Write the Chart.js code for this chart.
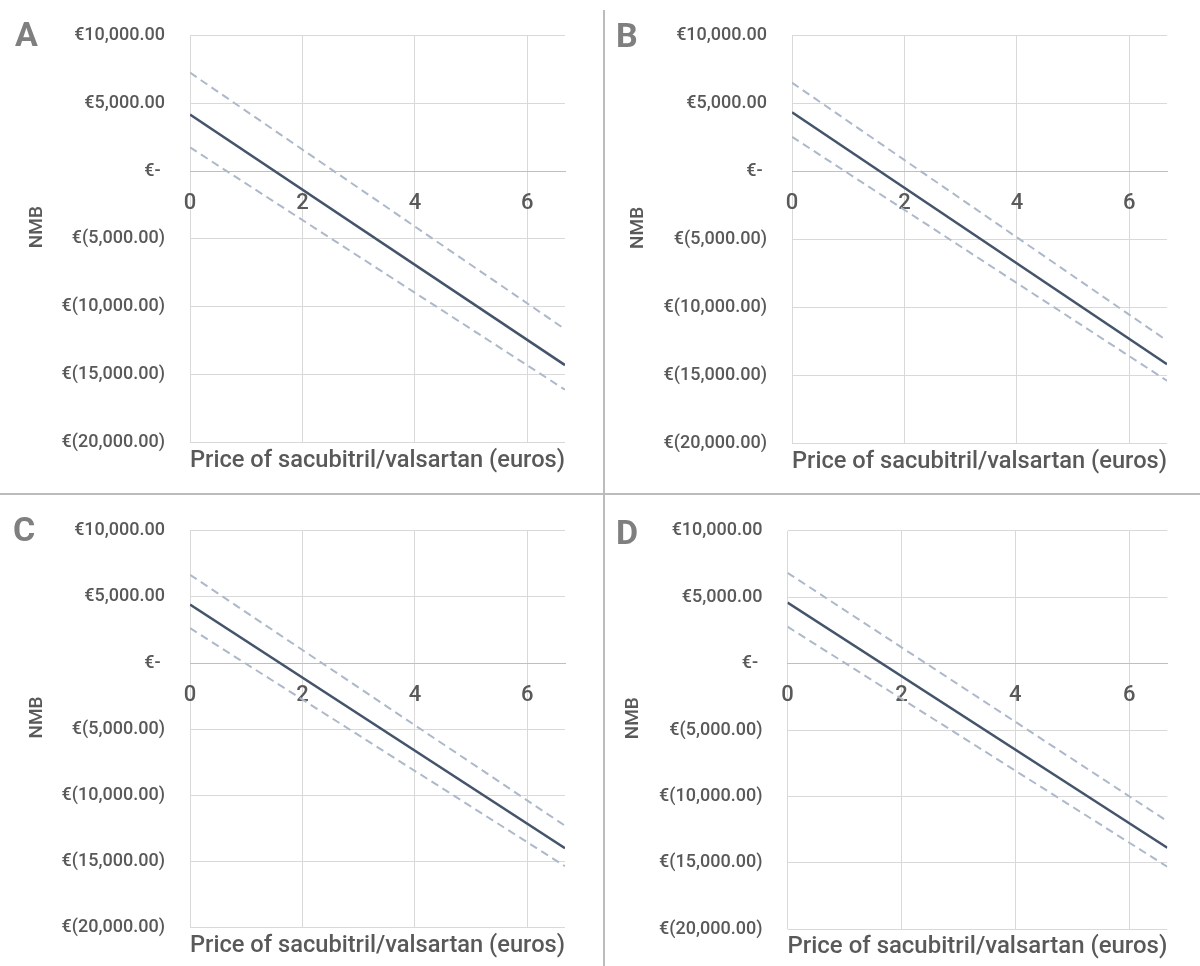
<!DOCTYPE html>
<html>
<head>
<meta charset="utf-8">
<script src="https://cdn.jsdelivr.net/npm/chart.js@4.4.1/dist/chart.umd.min.js"></script>
<style>
  html, body { margin: 0; padding: 0; background: #fff; }
  #page { position: relative; width: 1200px; height: 966px; overflow: hidden; }
  #page canvas { position: absolute; display: block; }
  .letter { position: absolute; font: bold 34px Roboto, sans-serif; line-height: 34px; color: #7f7f7f; }
  .vsep { position: absolute; left: 603px; top: 10px; width: 2px; height: 956px; background: #bcbcbc; }
  .hsep { position: absolute; left: 0; top: 493px; width: 1200px; height: 2px; background: #bcbcbc; }
</style>
</head>
<body>
<div id="page">
  <canvas id="cA"></canvas>
  <canvas id="cB"></canvas>
  <canvas id="cC"></canvas>
  <canvas id="cD"></canvas>
  <div class="vsep"></div>
  <div class="hsep"></div>
  <div class="letter" style="left:15px;top:17px">A</div>
  <div class="letter" style="left:616px;top:18px">B</div>
  <div class="letter" style="left:13px;top:512px">C</div>
  <div class="letter" style="left:616px;top:515px">D</div>
</div>
<script>
// price of sacubitril/valsartan (euros) at both ends of each line
const priceEuros = [0, 6.67];
const xTicks = [0, 2, 4, 6];
const yTicks = [10000, 5000, 0, -5000, -10000, -15000, -20000];

// NMB (euros)
const nmbA = [4190, -14320];
const nmbAHigh = [7280, -11670];
const nmbALow = [1760, -16140];

const nmbB = [4380, -14170];
const nmbBHigh = [6550, -12430];
const nmbBLow = [2570, -15380];

const nmbC = [4430, -14000];
const nmbCHigh = [6680, -12290];
const nmbCLow = [2640, -15350];

const nmbD = [4590, -13860];
const nmbDHigh = [6840, -11860];
const nmbDLow = [2780, -15290];

const fontFam = 'Roboto, "Liberation Sans", sans-serif';
const txt = '#595959';

// canvas box [x, y, w, h] and plot area [left, top, right, bottom] in canvas pixels
const panels = [
  { id: 'cA', box: [0, 0, 603, 493],   area: [190, 28, 565, 442],     yTitleX: 37, xTitleY: 461, d: [nmbA, nmbAHigh, nmbALow] },
  { id: 'cB', box: [605, 0, 595, 493], area: [187, 29, 562, 443.5],   yTitleX: 33, xTitleY: 462, d: [nmbB, nmbBHigh, nmbBLow] },
  { id: 'cC', box: [0, 495, 603, 471], area: [190, 24, 565, 432.7],   yTitleX: 37, xTitleY: 451, d: [nmbC, nmbCHigh, nmbCLow] },
  { id: 'cD', box: [605, 495, 595, 471], area: [182.5, 21, 562.3, 434.3], yTitleX: 28, xTitleY: 452, d: [nmbD, nmbDHigh, nmbDLow] }
];

function euro(v) {
  if (v === 0) return '€- ';
  const s = Math.abs(v).toLocaleString('en-US', { minimumFractionDigits: 2, maximumFractionDigits: 2 });
  return v < 0 ? '€(' + s + ')' : '€' + s;
}

function pts(ys) {
  return priceEuros.map((x, i) => ({ x: x, y: ys[i] }));
}

panels.forEach(function (p) {
  const cv = document.getElementById(p.id);
  const [bx, by, W, H] = p.box;
  cv.style.left = bx + 'px';
  cv.style.top = by + 'px';
  cv.width = W;
  cv.height = H;

  const yTitleSize = 19, xTitleSize = 24;
  const padLeft = p.yTitleX - yTitleSize * 1.2 / 2;
  const padBottom = H - p.xTitleY - xTitleSize * 1.2 / 2;
  const yWidth = p.area[0] - padLeft;
  const x2Height = H - padBottom - p.area[3];

  new Chart(cv, {
    type: 'line',
    data: {
      datasets: [
        { data: pts(p.d[0]), borderColor: '#44546a', borderWidth: 2.5, xAxisID: 'x', yAxisID: 'y', order: 0 },
        { data: pts(p.d[1]), borderColor: '#adb9ca', borderWidth: 2, borderDash: [8, 5], xAxisID: 'x', yAxisID: 'y', order: 1 },
        { data: pts(p.d[2]), borderColor: '#adb9ca', borderWidth: 2, borderDash: [8, 5], xAxisID: 'x', yAxisID: 'y', order: 1 }
      ]
    },
    options: {
      responsive: false,
      animation: false,
      devicePixelRatio: 1,
      elements: { point: { radius: 0 }, line: { tension: 0 } },
      layout: { padding: { left: padLeft, top: p.area[1], right: W - p.area[2], bottom: padBottom } },
      plugins: { legend: { display: false }, tooltip: { enabled: false } },
      scales: {
        x: {
          type: 'linear',
          position: { y: 0 },
          min: 0,
          max: 6.67,
          afterBuildTicks: s => { s.ticks = xTicks.map(v => ({ value: v })); },
          grid: { color: '#d9d9d9', lineWidth: 1, drawTicks: false },
          border: { display: true, color: '#bfbfbf', width: 1 },
          ticks: { color: txt, font: { family: fontFam, size: 22, weight: '500' }, padding: 19, maxRotation: 0, callback: v => String(v) }
        },
        x2: {
          type: 'linear',
          position: 'bottom',
          grid: { display: false },
          border: { display: false },
          ticks: { display: false },
          title: { display: true, text: 'Price of sacubitril/valsartan (euros)', color: txt, font: { family: fontFam, size: xTitleSize, weight: '500' }, padding: 0 },
          afterFit: s => { s.height = x2Height; }
        },
        y: {
          type: 'linear',
          position: 'left',
          min: -20000,
          max: 10000,
          afterBuildTicks: s => { s.ticks = yTicks.map(v => ({ value: v })); },
          grid: { color: '#d9d9d9', lineWidth: 1, drawTicks: false },
          border: { display: false },
          ticks: { color: txt, font: { family: fontFam, size: 18, weight: '500' }, padding: 25, callback: v => euro(v) },
          title: { display: true, text: '     NMB', color: txt, font: { family: fontFam, size: yTitleSize, weight: '500' }, padding: 0 },
          afterFit: s => { s.width = yWidth; }
        }
      }
    }
  });
});
</script>
</body>
</html>
